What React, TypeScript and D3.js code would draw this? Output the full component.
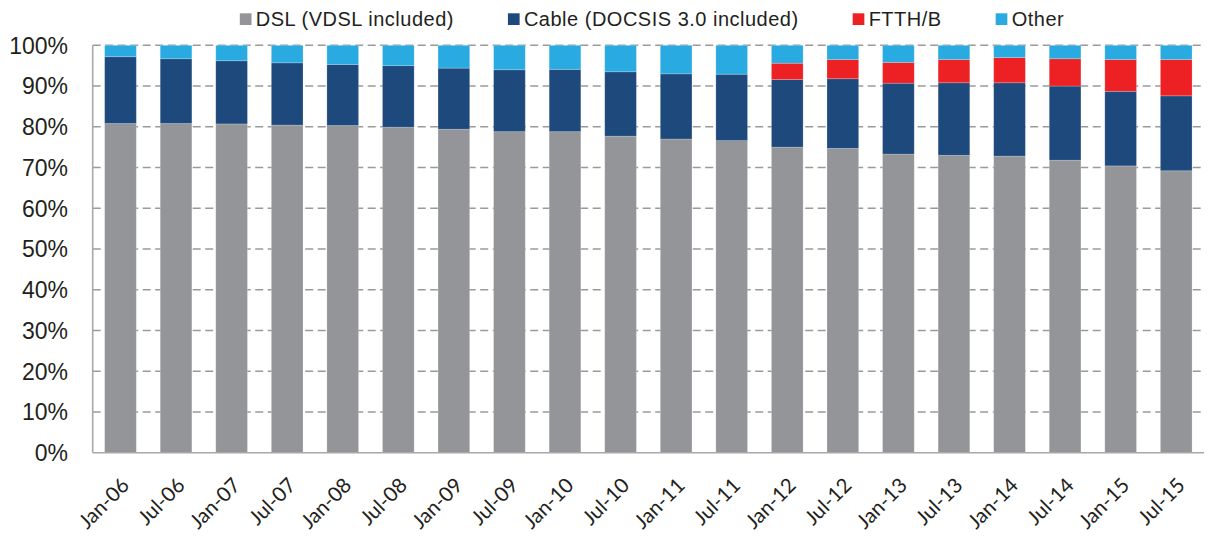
import { useEffect, useRef } from 'react';
import * as d3 from 'd3';

const periods = [
  'Jan-06', 'Jul-06', 'Jan-07', 'Jul-07', 'Jan-08', 'Jul-08', 'Jan-09', 'Jul-09',
  'Jan-10', 'Jul-10', 'Jan-11', 'Jul-11', 'Jan-12', 'Jul-12', 'Jan-13', 'Jul-13',
  'Jan-14', 'Jul-14', 'Jan-15', 'Jul-15',
];

// shares in %
const dsl = [80.8, 80.8, 80.7, 80.4, 80.3, 79.9, 79.4, 78.8, 78.8, 77.7, 77.0, 76.6, 75.0, 74.7, 73.3, 73.0, 72.8, 71.8, 70.4, 69.2];
const cable = [16.4, 15.9, 15.5, 15.3, 15.0, 15.1, 15.0, 15.2, 15.3, 15.8, 16.0, 16.3, 16.6, 17.1, 17.4, 17.8, 18.0, 18.2, 18.3, 18.4];
const ftth = [0, 0, 0, 0, 0, 0, 0, 0, 0, 0, 0, 0, 4.0, 4.7, 5.1, 5.7, 6.2, 6.7, 7.8, 8.9];
const other = periods.map((_, i) => 100 - dsl[i] - cable[i] - ftth[i]);

const seriesNames = ['DSL (VDSL included)', 'Cable (DOCSIS 3.0 included)', 'FTTH/B', 'Other'];
const seriesColors = ['#939598', '#1e497c', '#ed2024', '#29abe2'];
const yTicks = [0, 10, 20, 30, 40, 50, 60, 70, 80, 90, 100];

const App = () => {
  const svgRef = useRef<SVGSVGElement | null>(null);

  useEffect(() => {
    document.body.style.margin = '0';

    const width = 1209;
    const height = 543;
    const margin = { top: 45.3, right: 5, bottom: 90.3, left: 92.7 };

    const svg = d3.select(svgRef.current);
    svg.selectAll('*').remove();

    const rows = periods.map((p, i) => ({
      period: p,
      dsl: dsl[i],
      cable: cable[i],
      ftth: ftth[i],
      other: other[i],
    }));
    const keys = ['dsl', 'cable', 'ftth', 'other'];

    const x = d3.scaleBand()
      .domain(periods)
      .range([margin.left, width - margin.right])
      .paddingInner(0.43)
      .paddingOuter(0.215);

    const y = d3.scaleLinear()
      .domain([0, 100])
      .range([height - margin.bottom, margin.top]);

    const color = d3.scaleOrdinal<string, string>().domain(keys).range(seriesColors);

    // dashed gridlines
    svg.append('g')
      .selectAll('line')
      .data(yTicks.filter(t => t > 0))
      .join('line')
      .attr('x1', margin.left)
      .attr('x2', width - margin.right)
      .attr('y1', d => y(d))
      .attr('y2', d => y(d))
      .attr('stroke', '#9a9a9a')
      .attr('stroke-width', 1.6)
      .attr('stroke-dasharray', '8,4.5');

    const stacked = d3.stack<any>().keys(keys)(rows);

    svg.append('g')
      .selectAll('g')
      .data(stacked)
      .join('g')
      .attr('fill', d => color(d.key))
      .selectAll('rect')
      .data(d => d)
      .join('rect')
      .attr('x', d => x(d.data.period)!)
      .attr('width', x.bandwidth())
      .attr('y', d => y(d[1]))
      .attr('height', d => y(d[0]) - y(d[1]))
      .attr('stroke', '#ffffff')
      .attr('stroke-opacity', 0.25)
      .attr('stroke-width', 0.8);

    // axis lines
    const axisColor = '#a8a8a8';
    svg.append('line')
      .attr('x1', margin.left).attr('x2', margin.left)
      .attr('y1', y(100)).attr('y2', y(0))
      .attr('stroke', axisColor).attr('stroke-width', 1.6);
    svg.append('line')
      .attr('x1', margin.left).attr('x2', width - margin.right)
      .attr('y1', y(0)).attr('y2', y(0))
      .attr('stroke', axisColor).attr('stroke-width', 1.6);

    // y labels
    svg.append('g')
      .selectAll('text')
      .data(yTicks)
      .join('text')
      .attr('x', 68)
      .attr('y', d => y(d))
      .attr('dy', '0.36em')
      .attr('text-anchor', 'end')
      .style('font-family', '"Liberation Sans", Arial, sans-serif')
      .style('font-size', '23px')
      .attr('fill', '#231f20')
      .text(d => `${d}%`);

    // x labels
    svg.append('g')
      .selectAll('text')
      .data(periods)
      .join('text')
      .attr('transform', d => `translate(${x(d)! + x.bandwidth() / 2 + 10},${y(0) + 34}) rotate(-45)`)
      .attr('text-anchor', 'end')
      .style('font-family', 'Lato, "Open Sans", sans-serif')
      .style('font-size', '20.5px')
      .attr('fill', '#231f20')
      .text(d => d);

    // legend
    const legend = svg.append('g');
    let cursor = 0;
    seriesNames.forEach((name, i) => {
      const item = legend.append('g').attr('transform', `translate(${cursor},0)`);
      item.append('rect')
        .attr('x', 0).attr('y', 13.3)
        .attr('width', 11.7).attr('height', 11.7)
        .attr('fill', seriesColors[i]);
      const t = item.append('text')
        .attr('x', 16)
        .attr('y', 26)
        .style('font-family', '"Liberation Sans", Arial, sans-serif')
        .style('font-size', '20px')
        .style('letter-spacing', '0.5px')
        .attr('fill', '#231f20')
        .text(name);
      const len = (t.node() as SVGTextElement).getComputedTextLength();
      cursor += 16 + len + 54;
    });
    const total = cursor - 54;
    legend.attr('transform', `translate(${652 - total / 2},0)`);
  }, []);

  return <svg ref={svgRef} width={1209} height={543} style={{ display: 'block' }} />;
};

export default App;
